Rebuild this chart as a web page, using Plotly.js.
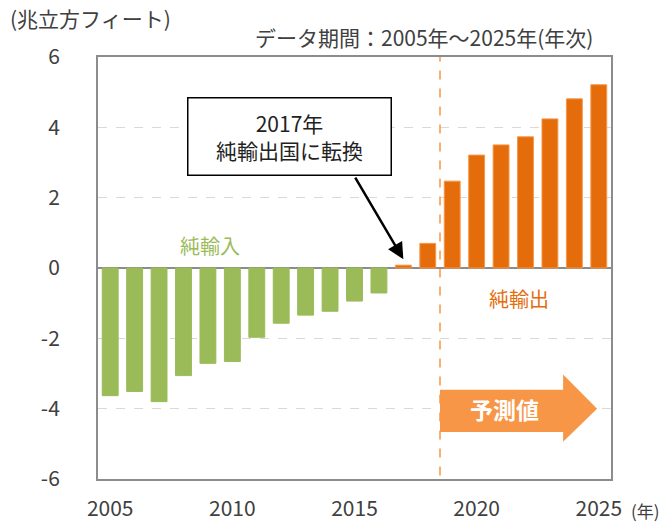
<!DOCTYPE html>
<html>
<head>
<meta charset="utf-8">
<script src="https://cdn.plot.ly/plotly-3.0.1.min.js"></script>
<style>
html,body{margin:0;padding:0;background:#fff;}
#chart{width:669px;height:524px;}
</style>
</head>
<body>
<div id="chart"></div>
<script>
// Data
const years = [2005,2006,2007,2008,2009,2010,2011,2012,2013,2014,2015,2016,2017,2018,2019,2020,2021,2022,2023,2024,2025];
const netExports = [-3.63,-3.51,-3.80,-3.06,-2.71,-2.66,-1.97,-1.57,-1.34,-1.23,-0.94,-0.71,0.08,0.70,2.47,3.21,3.50,3.73,4.24,4.81,5.21];
const xTickVals = [2005,2010,2015,2020,2025];
const yTickVals = [-6,-4,-2,0,2,4,6];
const forecastStart = 2018.5;
const turnYear = 2017;

const GREEN = '#9BBB59';
const ORANGE = '#E46C0A';
const LIGHT_ORANGE = '#F79646';
const TEXT = '#404040';
const FONT = '"Noto Sans CJK JP", "Noto Sans", sans-serif';

const colors = netExports.map(v => v < 0 ? GREEN : ORANGE);
const lineColors = netExports.map(v => v < 0 ? GREEN : LIGHT_ORANGE);

const trace = {
  type: 'bar',
  x: years,
  y: netExports,
  width: 0.65,
  marker: {color: colors, line: {color: lineColors, width: 1}},
  hoverinfo: 'x+y'
};

const turnValue = netExports[years.indexOf(turnYear)];

const layout = {
  width: 669, height: 524,
  margin: {l: 98, r: 58, t: 57, b: 45},
  paper_bgcolor: '#fff', plot_bgcolor: '#fff',
  showlegend: false,
  font: {family: FONT, color: TEXT, size: 19},
  bargap: 0.35,
  xaxis: {
    range: [2004.5, 2025.5],
    tickvals: xTickVals,
    ticktext: xTickVals.map(String),
    tickfont: {size: 21, color: TEXT},
    showgrid: false, zeroline: false,
    showline: true, mirror: true, linecolor: '#8c8c8c', linewidth: 2,
    ticks: '', ticklabelstandoff: 10
  },
  yaxis: {
    range: [-6, 6],
    tickvals: yTickVals,
    ticktext: yTickVals.map(v => String(v)),
    tickfont: {size: 21, color: TEXT},
    showgrid: true, gridcolor: '#d9d9d9', griddash: 'dash', gridwidth: 1.5,
    zeroline: true, zerolinecolor: '#8c8c8c', zerolinewidth: 2,
    showline: true, mirror: true, linecolor: '#8c8c8c', linewidth: 2,
    ticks: '', ticklabelstandoff: 32
  },
  shapes: [
    {type: 'line', xref: 'x', yref: 'y', x0: forecastStart, x1: forecastStart, y0: -5.9, y1: 6.15,
     line: {color: LIGHT_ORANGE, width: 1.5, dash: 'dash'}},
    {type: 'path', xref: 'x', yref: 'y', layer: 'above',
     path: 'M 2018.5 -3.46 L 2023.54 -3.46 L 2023.54 -3.03 L 2024.93 -4.0 L 2023.54 -4.94 L 2023.54 -4.66 L 2018.5 -4.66 Z',
     fillcolor: LIGHT_ORANGE, line: {width: 0}}
  ],
  annotations: [
    {xref: 'paper', yref: 'paper', x: -0.175, y: 1.092, xanchor: 'left', yanchor: 'middle',
     text: '(兆立方フィート)', showarrow: false, font: {size: 21, color: TEXT}},
    {xref: 'paper', yref: 'paper', x: 0.635, y: 1.047, xanchor: 'center', yanchor: 'middle',
     text: 'データ期間：2005年～2025年(年次)', showarrow: false, font: {size: 21, color: TEXT}},
    {xref: 'paper', yref: 'paper', x: 1.036, y: -0.075, xanchor: 'left', yanchor: 'middle',
     text: '(年)', showarrow: false, font: {size: 17, color: TEXT}},
    {xref: 'x', yref: 'y', x: 2012.34, y: 3.74, text: '2017年<br>純輸出国に転換',
     showarrow: false, font: {size: 21, color: '#222'}, bgcolor: '#fff',
     bordercolor: '#000', borderwidth: 1.5, width: 200, height: 74, align: 'center'},
    {xref: 'x', yref: 'y', x: turnYear, y: turnValue + 0.17, text: '', showarrow: true,
     ax: -49, ay: -83, arrowhead: 2, arrowsize: 1.3, arrowwidth: 2.5, arrowcolor: '#000'},
    {xref: 'x', yref: 'y', x: 2009.08, y: 0.63, text: '純輸入', showarrow: false,
     font: {size: 20, color: GREEN}},
    {xref: 'x', yref: 'y', x: 2021.73, y: -0.86, text: '純輸出', showarrow: false,
     font: {size: 20, color: ORANGE}},
    {xref: 'x', yref: 'y', x: 2021.16, y: -4.0, text: '<b>予測値</b>', showarrow: false,
     font: {size: 23, color: '#fff'}}
  ]
};

Plotly.newPlot('chart', [trace], layout, {displayModeBar: false, staticPlot: true});
</script>
</body>
</html>
